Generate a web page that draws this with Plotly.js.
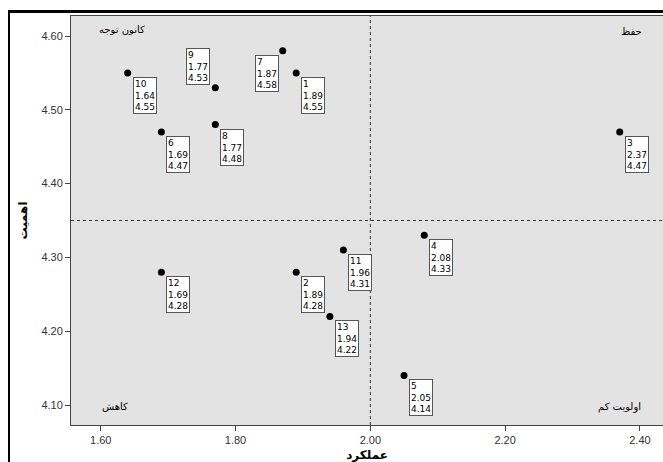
<!DOCTYPE html>
<html>
<head>
<meta charset="utf-8">
<script src="https://cdn.plot.ly/plotly-3.0.1.min.js"></script>
<style>
  html, body { margin: 0; padding: 0; background: #fff; }
  #wrap { position: relative; width: 663px; height: 462px; overflow: hidden; }
  #chart { width: 663px; height: 462px; }
  #frame { position: absolute; left: 8px; top: 10px; width: 700px; height: 500px;
           border-left: 2px solid #000; border-top: 3px solid #000; pointer-events: none; }
</style>
</head>
<body>
<div id="wrap">
  <div id="chart"></div>
  <div id="frame"></div>
</div>
<script>
// Data: item IDs, performance (x) and importance (y)
const ids         = ['1', '2', '3', '4', '5', '6', '7', '8', '9', '10', '11', '12', '13'];
const performance = [1.89, 1.89, 2.37, 2.08, 2.05, 1.69, 1.87, 1.77, 1.77, 1.64, 1.96, 1.69, 1.94];
const importance  = [4.55, 4.28, 4.47, 4.33, 4.14, 4.47, 4.58, 4.48, 4.53, 4.55, 4.31, 4.28, 4.22];

// Quadrant divider values
const refX = 2.00;
const refY = 4.35;

// Quadrant labels
const quadrantLabels = ['کانون توجه', 'حفظ', 'کاهش', 'اولویت کم'];
const xTitle = 'عملکرد';
const yTitle = 'اهمیت';

// label placement: which side of the point the box sits
const placeUpLeft = {'9': 'upleft', '7': 'left'};

const boxAnns = ids.map((id, i) => {
  const mode = placeUpLeft[id];
  const a = {
    x: performance[i], y: importance[i], xref: 'x', yref: 'y',
    text: id + '<br>' + performance[i].toFixed(2) + '<br>' + importance[i].toFixed(2),
    showarrow: false, align: 'left',
    font: {family: 'DejaVu Sans', size: 9, color: '#000'},
    bgcolor: '#ffffff', bordercolor: '#555555', borderwidth: 1, borderpad: 1,
    xanchor: 'left', yanchor: 'top', xshift: 5, yshift: -4
  };
  if (mode === 'upleft') { a.xanchor = 'right'; a.yanchor = 'bottom'; a.xshift = -5; a.yshift = 3; }
  if (mode === 'left') { a.xanchor = 'right'; a.yanchor = 'top'; a.xshift = -4; a.yshift = -4; }
  return a;
});

const qFont = {family: 'DejaVu Sans', size: 10, color: '#000'};
const quadAnns = [
  {text: quadrantLabels[0], x: 0.086, y: 0.968},
  {text: quadrantLabels[1], x: 0.946, y: 0.963},
  {text: quadrantLabels[2], x: 0.074, y: 0.046},
  {text: quadrantLabels[3], x: 0.927, y: 0.044}
].map(q => Object.assign({xref: 'paper', yref: 'paper', showarrow: false,
  xanchor: 'center', yanchor: 'middle', font: qFont}, q));

const trace = {
  x: performance, y: importance, text: ids,
  type: 'scatter', mode: 'markers',
  marker: {color: '#000', size: 7},
  hoverinfo: 'text+x+y'
};

const layout = {
  width: 663, height: 462,
  margin: {l: 71, r: 0, t: 16, b: 37, pad: 0},
  paper_bgcolor: '#ffffff', plot_bgcolor: '#e3e3e3',
  showlegend: false,
  font: {family: 'Liberation Sans, Arial, sans-serif', color: '#222'},
  xaxis: {
    range: [1.5559, 2.4342], dtick: 0.2, tick0: 1.6, tickformat: '.2f',
    showgrid: false, zeroline: false,
    showline: true, linecolor: '#444', linewidth: 1, mirror: true,
    ticks: 'outside', ticklen: 5, tickcolor: '#444',
    tickfont: {size: 11, color: '#333'},
    title: {text: xTitle, font: {size: 12, color: '#000', family: 'DejaVu Sans', weight: 'bold'}, standoff: 10}
  },
  yaxis: {
    range: [4.0729, 4.6271], dtick: 0.1, tick0: 4.1, tickformat: '.2f',
    showgrid: false, zeroline: false,
    showline: true, linecolor: '#444', linewidth: 1,
    ticks: 'outside', ticklen: 5, tickcolor: '#444',
    tickfont: {size: 11, color: '#333'},
    title: {text: yTitle, font: {size: 12, color: '#000', family: 'DejaVu Sans', weight: 'bold'}, standoff: 11}
  },
  shapes: [
    {type: 'line', xref: 'x', yref: 'paper', x0: refX, x1: refX, y0: 0, y1: 1,
     line: {color: '#333', width: 1, dash: 'dot'}},
    {type: 'line', xref: 'paper', yref: 'y', x0: 0, x1: 1, y0: refY, y1: refY,
     line: {color: '#333', width: 1, dash: 'dot'}}
  ],
  annotations: quadAnns.concat(boxAnns)
};

Plotly.newPlot('chart', [trace], layout, {displayModeBar: false, staticPlot: true});
</script>
</body>
</html>
